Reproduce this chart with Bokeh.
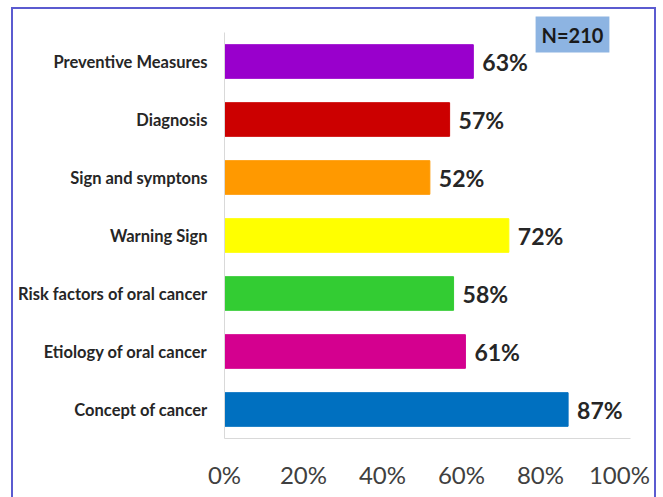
from bokeh.plotting import figure
from bokeh.models import (ColumnDataSource, Range1d, Label,
                          FixedTicker, CustomJSTickFormatter, InlineStyleSheet)
from bokeh.core.properties import value
from bokeh.embed import file_html
from bokeh.resources import INLINE

# Knowledge domains (top to bottom) and share of correct answers
categories = ["Preventive Measures", "Diagnosis", "Sign and symptons", "Warning Sign",
              "Risk factors of oral cancer", "Etiology of oral cancer", "Concept of cancer"]
percent = [63, 57, 52, 72, 58, 61, 87]
bar_colors = ["#9900cc", "#cc0000", "#ff9900", "#ffff00", "#33cc33", "#d4008f", "#0070c0"]
tick_values = [0, 20, 40, 60, 80, 100]
sample_note = "N=210"

n = len(categories)
rows = [n - 1 - i for i in range(n)]   # first domain on top

src = ColumnDataSource(dict(
    row=rows,
    val=[v / 100 for v in percent],
    color=bar_colors,
    label=[f"{v}%" for v in percent],
))

W, H = 663, 497
p = figure(width=W, height=H, output_backend="svg", toolbar_location=None,
           y_range=Range1d(-0.5, n - 0.5 + 0.345),
           x_range=Range1d(0, 1.028),
           min_border_left=224, min_border_right=33, min_border_top=12, min_border_bottom=59)
p.background_fill_color = "white"
p.border_fill_color = "white"
p.outline_line_color = None
p.grid.visible = False

p.hbar(y="row", right="val", left=0, height=0.58, color="color", source=src)
p.text(x="val", y="row", text="label", source=src, x_offset=9,
       text_baseline="middle", text_align="left", text_font_size="23px",
       text_font_style="bold", text_color="#262626", text_font=value("Lato"))

# x axis: percentages
xa = p.xaxis[0]
xa.ticker = FixedTicker(ticks=[t / 100 for t in tick_values])
xa.formatter = CustomJSTickFormatter(code="return Math.round(tick * 100) + '%';")
xa.axis_line_color = "#d9d9d9"
xa.major_tick_line_color = None
xa.minor_tick_line_color = None
xa.major_label_text_font = "Lato"
xa.major_label_text_font_size = "24px"
xa.major_label_text_color = "#404040"
xa.major_label_standoff = 15

# y axis: domain names
ya = p.yaxis[0]
ya.ticker = FixedTicker(ticks=rows)
ya.major_label_overrides = {r: c for r, c in zip(rows, categories)}
ya.bounds = (-0.5, n - 0.5)
ya.axis_line_color = "#d9d9d9"
ya.major_tick_line_color = None
ya.minor_tick_line_color = None
ya.major_label_text_font = "Lato"
ya.major_label_text_font_size = "16.5px"
ya.major_label_text_font_style = "bold"
ya.major_label_text_color = "#262626"
ya.major_label_standoff = 11

# sample size badge
p.add_layout(Label(x=572, y=34, x_units="canvas", y_units="canvas",
                   text=sample_note, text_align="center", text_baseline="middle",
                   text_font="Lato", text_font_size="20px", text_font_style="bold",
                   text_color="#1a1a1a", background_fill_color="#8db4e2",
                   background_fill_alpha=1.0, padding=6))

# outer panel frame (left, top and right edges)
p.stylesheets = [InlineStyleSheet(css="""
:host { position: relative; }
:host::after {
  content: ""; position: absolute; left: 11px; top: 7px; width: 645px; height: 600px;
  border: 2px solid #5b5bd0; pointer-events: none; box-sizing: border-box;
}
""")]

open("out.html", "w").write(file_html(p, INLINE))
